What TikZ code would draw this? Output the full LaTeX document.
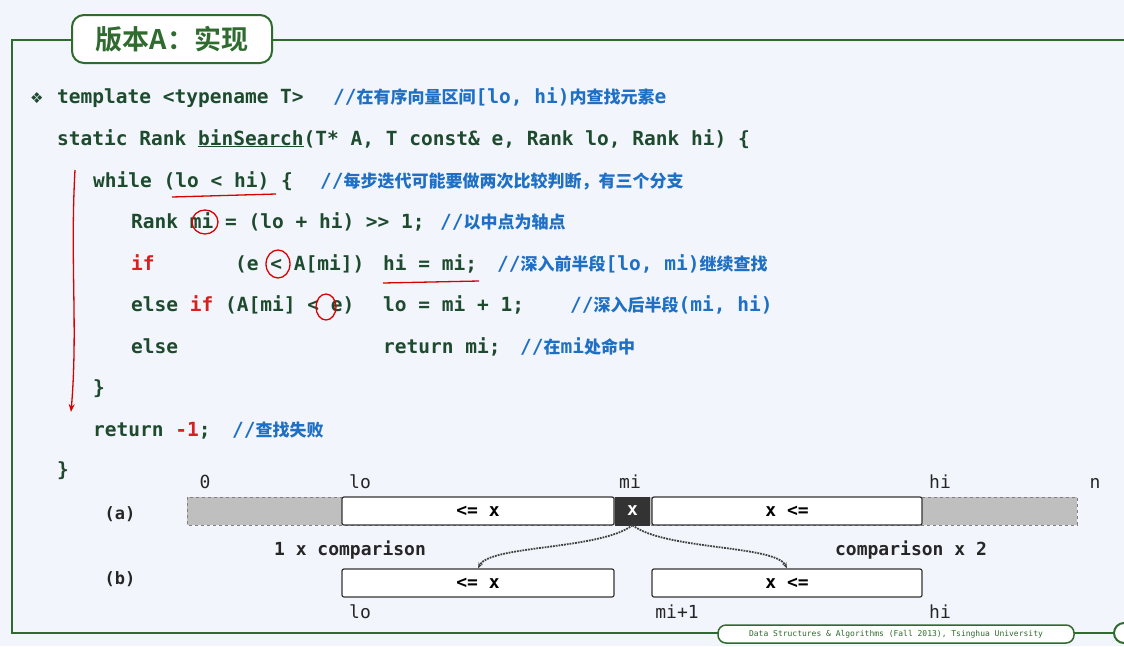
\documentclass[tikz,border=0pt]{standalone}
\usepackage{fontspec}
\setmonofont{DejaVu Sans Mono}
\newfontfamily\cjk{Noto Sans CJK SC Bold}
\newfontfamily\sym{DejaVu Sans}
\usetikzlibrary{arrows.meta}
\definecolor{bg}{HTML}{F2F6FC}
\definecolor{fr}{HTML}{2F6A2F}
\definecolor{code}{HTML}{1E4A2E}
\definecolor{cmt}{HTML}{1F6FC4}
\definecolor{kw}{HTML}{D82020}
\newcommand{\cj}[1]{{\cjk\fontsize{17}{17}\selectfont #1}}
\begin{document}
\begin{tikzpicture}[x=1pt,y=-1pt,
  codeln/.style={anchor=base west,inner sep=0pt,font=\ttfamily\bfseries\fontsize{19.5}{20}\selectfont,text=code},
  cmtx/.style={codeln,text=cmt},
  bx/.style={draw=black!80,line width=1.2pt,fill=white,rounded corners=2pt},
  lb/.style={anchor=base,inner sep=0pt,font=\ttfamily\fontsize{18}{18}\selectfont,text=black!85},
  ann/.style={draw=red!85!black,line width=1.3pt}]
\useasboundingbox (0,0) rectangle (1124,646);
\fill[bg] (0,0) rectangle (1124,646);
% frame
\draw[fr,line width=2pt] (1126,40) -- (12,40) -- (12,633) -- (1126,633);
\node[draw=fr,line width=2pt,fill=white,rounded corners=12pt,minimum width=200pt,minimum height=48pt,font=\cjk\fontsize{27}{27}\selectfont,text=fr] (title) at (172,39) {版本A：实现};
\node[draw=fr,line width=1.5pt,fill=white,rounded corners=8pt,minimum width=356pt,minimum height=18pt,inner sep=1pt,font=\ttfamily\fontsize{8}{8}\selectfont,text=fr] (foot) at (896,634) {Data Structures \& Algorithms (Fall 2013), Tsinghua University};
\draw[fr,line width=2pt,fill=white] (1124,633) circle (10);
% code
\node[anchor=base west,inner sep=0pt,font=\sym\fontsize{15}{15}\selectfont,text=code] (dia) at (30,103) {❖};
\node[codeln] (l1) at (57,103) {template <typename T>};
\node[cmtx] (c1) at (333,103) {//\cj{在有序向量区间}[lo, hi)\cj{内查找元素}e};
\node[codeln] (l2) at (57,145) {static Rank \underline{binSearch}(T* A, T const\& e, Rank lo, Rank hi) \{};
\node[codeln] (l3) at (93,187) {while (lo < hi) \{};
\node[cmtx] (c3) at (320,187) {//\cj{每步迭代可能要做两次比较判断，有三个分支}};
\node[codeln] (l4) at (131,228) {Rank mi = (lo + hi) >> 1;};
\node[cmtx] (c4) at (440,228) {//\cj{以中点为轴点}};
\node[codeln,text=kw] (l5a) at (131,270) {if};
\node[codeln] (l5b) at (235,270) {(e < A[mi])};
\node[codeln] (l5c) at (383,270) {hi = mi;};
\node[cmtx] (c5) at (497,270) {//\cj{深入前半段}[lo, mi)\cj{继续查找}};
\node[codeln] (l6a) at (131,311) {else \textcolor{kw}{if} (A[mi] < e)};
\node[codeln] (l6c) at (383,311) {lo = mi + 1;};
\node[cmtx] (c6) at (570,311) {//\cj{深入后半段}(mi, hi)};
\node[codeln] (l7a) at (131,353) {else};
\node[codeln] (l7c) at (383,353) {return mi;};
\node[cmtx] (c7) at (520,353) {//\cj{在}mi\cj{处命中}};
\node[codeln] (l8) at (93,394) {\}};
\node[codeln] (l9) at (93,436) {return \textcolor{kw}{-1};};
\node[cmtx] (c9) at (232,436) {//\cj{查找失败}};
\node[codeln] (l10) at (57,476) {\}};
% annotations
\draw[ann,-{Stealth[length=8pt]}] (75,170) .. controls (70,260) and (78,330) .. (71,412);
\draw[ann] (172,197) -- (276,194);
\draw[ann] (205,222) ellipse (13 and 12);
\draw[ann] (278,264) ellipse (12 and 14);
\draw[ann] (383,283) -- (479,281);
\draw[ann] (326,307) ellipse (10 and 13);
% diagram
\draw[black!50,dashed,line width=1pt,fill=black!25] (187,497) rectangle (1077,525);
\node[bx,minimum width=272pt,minimum height=28pt,font=\ttfamily\bfseries\fontsize{18}{18}\selectfont] (a1) at (478,511) {<= x};
\node[draw=black!80,fill=black!80,text=white,minimum width=34pt,minimum height=28pt,inner sep=0pt,font=\ttfamily\bfseries\fontsize{18}{18}\selectfont] (ax) at (632.5,511) {x};
\node[bx,minimum width=270pt,minimum height=28pt,font=\ttfamily\bfseries\fontsize{18}{18}\selectfont] (a2) at (787,511) {x <=};
\node[bx,minimum width=272pt,minimum height=28pt,font=\ttfamily\bfseries\fontsize{18}{18}\selectfont] (b1) at (478,583) {<= x};
\node[bx,minimum width=270pt,minimum height=28pt,font=\ttfamily\bfseries\fontsize{18}{18}\selectfont] (b2) at (787,583) {x <=};
\node[lb] (t0) at (205,488) {0};
\node[lb] (tlo) at (360,488) {lo};
\node[lb] (tmi) at (630,488) {mi};
\node[lb] (thi) at (940,488) {hi};
\node[lb] (tn) at (1095,488) {n};
\node[lb] (blo) at (360,618) {lo};
\node[lb] (bmi) at (677,618) {mi+1};
\node[lb] (bhi) at (940,618) {hi};
\node[lb,font=\ttfamily\bfseries\fontsize{17}{17}\selectfont] (pa) at (120,519) {(a)};
\node[lb,font=\ttfamily\bfseries\fontsize{17}{17}\selectfont] (pb) at (120,584) {(b)};
\node[lb,font=\ttfamily\bfseries\fontsize{18}{18}\selectfont] (cmp1) at (350,555) {1 x comparison};
\node[lb,font=\ttfamily\bfseries\fontsize{18}{18}\selectfont] (cmp2) at (911,555) {comparison x 2};
\draw[black!75,densely dotted,line width=1.8pt,-{Stealth[length=6pt]}] (ax.south) .. controls (600,550) and (490,545) .. (b1.north);
\draw[black!75,densely dotted,line width=1.8pt,-{Stealth[length=6pt]}] (ax.south) .. controls (665,550) and (775,545) .. (b2.north);
\end{tikzpicture}
\end{document}
